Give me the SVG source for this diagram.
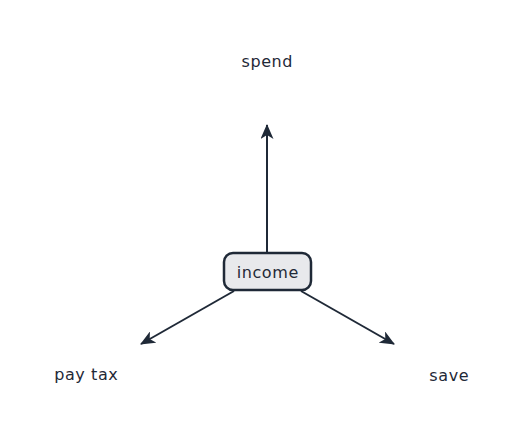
<svg xmlns="http://www.w3.org/2000/svg" width="521" height="438" viewBox="0 0 521 438">
<style>
.lbl{font-family:"DejaVu Sans","Noto Sans",sans-serif;font-size:16px;letter-spacing:0.6px;fill:#1f2937;text-anchor:middle}
.edge{stroke:#1f2937;stroke-width:2;fill:none}
.box{fill:#e8e9ec;stroke:#1f2937;stroke-width:2.5}
</style>
<defs>
<marker id="arr" viewBox="0 0 15 13" refX="14" refY="6.5" markerWidth="15" markerHeight="13" markerUnits="userSpaceOnUse" orient="auto">
<path d="M0,0 L15,6.5 L0,13 L4,6.5 z" fill="#1f2937"/>
</marker>
</defs>
<rect width="521" height="438" fill="#ffffff"/>
<g id="connectors">
<path class="edge" d="M267,252 L267,125" marker-end="url(#arr)"/>
<path class="edge" d="M234,291 L141,344" marker-end="url(#arr)"/>
<path class="edge" d="M301,291 L394,344" marker-end="url(#arr)"/>
</g>
<g id="income">
<rect class="box" x="224" y="253" width="87" height="37" rx="9"/>
<text class="lbl" x="267.8" y="277.5">income</text>
</g>
<g id="spend"><text class="lbl" x="267.3" y="67">spend</text></g>
<g id="paytax"><text class="lbl" x="86.3" y="380">pay tax</text></g>
<g id="save"><text class="lbl" x="449.3" y="381">save</text></g>
</svg>
